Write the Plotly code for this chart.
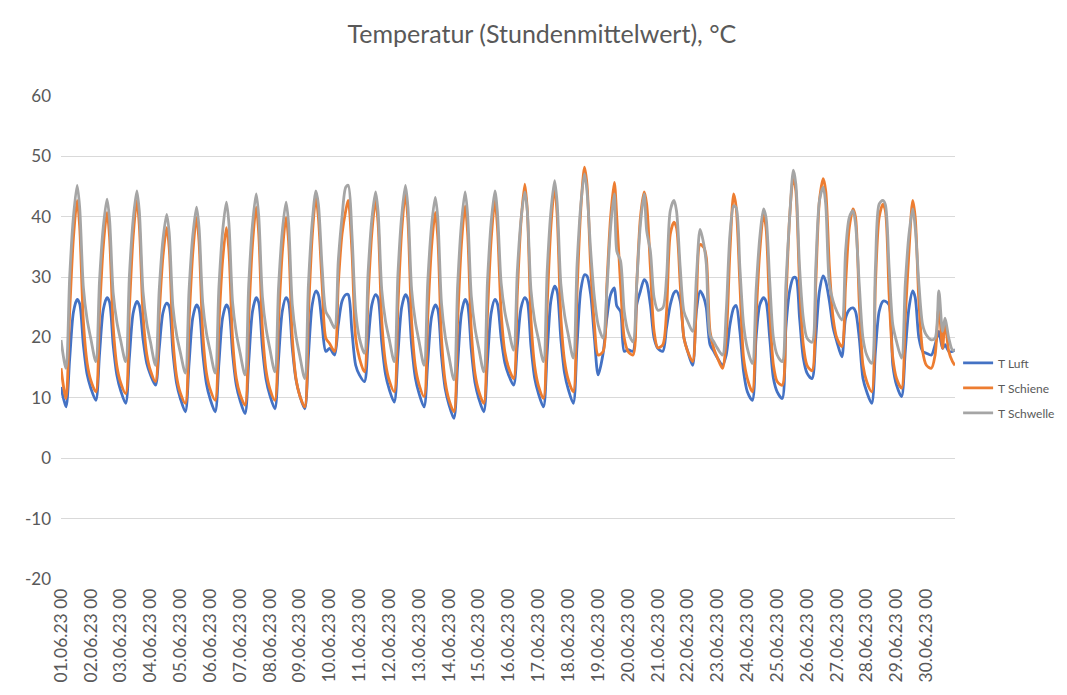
import plotly.graph_objects as go
from datetime import datetime, timedelta

# ---------------- data ----------------
START = datetime(2023, 6, 1)
SAMPLE_HOURS = [0, 4, 7, 10, 13, 15, 18, 21]   # hour of day of each reading
LAST_HOUR = 23                                  # final reading on 30.06.23

T_LUFT = [
    [11.8, 8.5, 16.5, 24.2, 26.3, 25.6, 18.8, 13.9],
    [11.6, 9.6, 17.3, 24.6, 26.6, 25.9, 18.7, 13.7],
    [11.2, 9.1, 16.7, 24.0, 26.0, 25.3, 19.7, 15.7],
    [13.8, 12.1, 18.2, 24.1, 25.7, 25.2, 17.6, 12.4],
    [9.9, 7.7, 15.7, 23.3, 25.4, 24.7, 17.4, 12.3],
    [9.8, 7.7, 15.7, 23.3, 25.4, 24.7, 17.3, 12.1],
    [9.6, 7.4, 16.0, 24.3, 26.6, 25.8, 18.3, 13.0],
    [10.4, 8.2, 16.5, 24.4, 26.6, 25.9, 18.3, 13.0],
    [10.4, 8.2, 17.0, 25.4, 27.7, 27.1, 22.1, 17.7],
    [18.2, 17.1, 22.1, 26.0, 27.1, 27.1, 21.0, 15.4],
    [13.8, 12.7, 19.2, 25.4, 27.1, 26.5, 19.1, 13.9],
    [11.4, 9.3, 17.3, 25.0, 27.1, 26.4, 18.7, 13.3],
    [10.7, 8.5, 16.1, 23.4, 25.4, 24.7, 16.9, 11.5],
    [8.9, 6.6, 15.5, 23.9, 26.3, 25.5, 17.9, 12.5],
    [9.9, 7.7, 16.1, 24.1, 26.3, 25.6, 19.9, 15.8],
    [13.8, 12.1, 18.6, 24.9, 26.6, 26.0, 18.5, 13.2],
    [10.7, 8.5, 17.5, 26.1, 28.5, 27.7, 19.8, 14.1],
    [11.4, 9.1, 18.7, 27.8, 30.4, 30.2, 27.1, 19.9],
    [13.8, 17.4, 23.2, 27.1, 28.2, 25.2, 24.3, 17.7],
    [18.0, 17.7, 25.4, 27.7, 29.6, 29.1, 25.4, 19.9],
    [18.2, 17.7, 21.6, 25.4, 27.4, 27.7, 26.0, 19.9],
    [17.7, 15.4, 24.3, 27.7, 26.6, 24.9, 18.8, 17.7],
    [16.6, 15.4, 17.1, 22.1, 24.9, 25.3, 21.0, 14.3],
    [11.0, 9.6, 19.9, 25.4, 26.6, 26.0, 19.9, 13.2],
    [11.0, 9.9, 21.6, 27.7, 29.9, 29.9, 23.2, 16.6],
    [14.1, 13.2, 19.9, 27.7, 30.2, 29.3, 26.0, 21.6],
    [19.3, 16.8, 23.2, 24.6, 24.9, 24.3, 19.9, 13.2],
    [11.0, 9.1, 17.7, 24.3, 26.0, 26.0, 25.4, 15.4],
    [12.1, 10.2, 17.7, 24.9, 27.7, 26.6, 19.9, 17.7],
    [17.4, 17.1, 18.8, 21.0, 18.2, 18.8, 17.7, 17.7],
]
T_LUFT_LAST = 18.0

T_SCHIENE = [
    [14.9, 9.9, 24.3, 36.5, 42.7, 38.4, 22.7, 15.8],
    [12.9, 11.0, 24.1, 35.1, 40.7, 36.8, 21.8, 15.2],
    [12.5, 10.7, 24.8, 36.6, 42.7, 38.5, 23.8, 17.2],
    [14.5, 12.7, 23.9, 33.4, 38.2, 34.9, 19.9, 13.5],
    [10.8, 9.1, 22.7, 34.0, 39.9, 35.9, 20.8, 14.1],
    [11.4, 9.6, 22.2, 32.8, 38.2, 34.5, 19.7, 13.2],
    [10.6, 8.8, 23.2, 35.4, 41.6, 37.3, 21.4, 14.4],
    [11.5, 9.6, 22.9, 34.1, 39.9, 36.0, 20.1, 13.2],
    [10.4, 8.5, 23.8, 36.6, 43.2, 39.9, 28.8, 19.9],
    [19.0, 17.7, 28.8, 37.1, 41.0, 42.7, 34.3, 19.9],
    [16.6, 14.3, 26.8, 37.3, 42.7, 39.0, 22.7, 15.8],
    [12.9, 11.0, 25.4, 37.6, 43.8, 39.5, 22.6, 15.2],
    [12.2, 10.2, 23.6, 34.9, 40.7, 36.7, 19.9, 12.7],
    [9.7, 7.7, 22.7, 35.3, 41.8, 37.4, 21.2, 14.0],
    [11.1, 9.1, 23.9, 36.3, 42.7, 38.3, 24.1, 17.6],
    [15.0, 13.2, 27.4, 39.3, 45.4, 41.2, 23.0, 15.2],
    [12.0, 9.9, 25.3, 38.3, 44.9, 40.4, 23.5, 16.1],
    [13.0, 11.0, 27.4, 41.1, 48.2, 45.4, 31.6, 22.1],
    [17.1, 17.7, 28.8, 39.9, 45.7, 39.9, 28.8, 19.9],
    [17.7, 17.1, 28.8, 39.9, 44.1, 42.1, 31.6, 21.0],
    [18.3, 18.8, 24.3, 37.1, 39.1, 38.2, 28.8, 19.9],
    [17.7, 16.0, 25.8, 35.4, 34.9, 33.2, 21.0, 18.2],
    [16.6, 14.9, 19.9, 34.3, 43.8, 41.6, 28.8, 16.6],
    [13.2, 11.0, 23.2, 34.3, 40.4, 38.2, 24.3, 15.4],
    [12.7, 12.1, 25.8, 39.9, 46.6, 44.3, 28.8, 18.8],
    [15.4, 14.5, 28.8, 42.7, 46.3, 44.3, 31.6, 23.2],
    [19.9, 18.5, 28.8, 38.2, 41.3, 39.9, 25.8, 15.4],
    [12.7, 11.0, 28.8, 39.9, 42.1, 41.0, 27.1, 16.6],
    [13.2, 11.6, 23.2, 34.3, 42.7, 39.9, 25.8, 17.7],
    [15.4, 14.9, 17.1, 25.0, 18.2, 22.7, 17.7, 16.0],
]
T_SCHIENE_LAST = 15.4

T_SCHWELLE = [
    [19.6, 14.9, 30.1, 40.0, 45.2, 41.6, 28.3, 23.0],
    [19.8, 16.0, 29.5, 38.3, 42.9, 39.7, 27.3, 22.5],
    [19.5, 16.0, 30.2, 39.5, 44.3, 40.9, 27.5, 22.3],
    [19.2, 15.4, 27.9, 36.2, 40.4, 37.4, 25.1, 20.4],
    [17.5, 14.1, 27.9, 36.9, 41.6, 38.3, 25.7, 20.7],
    [17.7, 14.1, 28.3, 37.6, 42.4, 39.0, 25.8, 20.7],
    [17.5, 13.8, 28.8, 38.7, 43.8, 40.2, 26.7, 21.4],
    [18.1, 14.3, 28.4, 37.6, 42.4, 39.0, 25.5, 20.2],
    [17.0, 13.2, 28.8, 39.0, 44.3, 42.1, 31.6, 24.3],
    [23.2, 21.6, 32.7, 39.9, 44.9, 45.2, 37.1, 24.3],
    [19.9, 17.4, 30.8, 39.6, 44.1, 40.9, 27.8, 22.7],
    [19.7, 16.0, 30.6, 40.2, 45.2, 41.7, 27.9, 22.6],
    [19.3, 15.4, 29.3, 38.5, 43.2, 39.9, 25.7, 20.2],
    [16.9, 13.0, 28.6, 38.8, 44.1, 40.4, 26.8, 21.5],
    [18.2, 14.3, 29.3, 39.2, 44.3, 40.7, 29.0, 24.2],
    [21.3, 17.9, 31.0, 39.6, 44.1, 41.0, 27.8, 22.7],
    [19.7, 16.0, 31.0, 40.9, 46.0, 42.4, 28.9, 23.7],
    [20.4, 16.6, 31.9, 41.9, 47.1, 44.3, 34.3, 26.6],
    [22.1, 19.9, 27.7, 38.2, 43.8, 34.3, 32.7, 24.3],
    [21.0, 19.3, 28.8, 38.8, 43.8, 37.7, 34.3, 26.6],
    [24.5, 24.9, 29.9, 41.0, 42.7, 41.0, 31.6, 24.3],
    [22.7, 21.0, 29.9, 37.9, 35.4, 32.1, 20.4, 19.3],
    [18.2, 17.1, 24.3, 37.1, 41.8, 41.5, 31.6, 22.1],
    [18.2, 15.7, 27.7, 36.6, 41.3, 39.9, 29.3, 19.9],
    [17.1, 16.0, 28.8, 39.9, 47.7, 45.4, 31.6, 23.2],
    [19.9, 19.2, 31.6, 42.7, 44.9, 42.1, 28.8, 26.0],
    [24.3, 22.9, 34.3, 39.9, 41.0, 38.8, 28.8, 19.9],
    [17.1, 15.7, 31.6, 42.1, 42.7, 42.0, 31.6, 22.1],
    [19.3, 16.6, 28.8, 37.1, 41.3, 38.2, 28.8, 22.1],
    [20.4, 19.6, 19.9, 27.7, 21.0, 23.2, 19.9, 17.9],
]
T_SCHWELLE_LAST = 17.9

DAYS = list(range(1, 31))
DAY_LABELS = [f"{d:02d}.06.23 00" for d in DAYS]
Y_TICKS = [-20, -10, 0, 10, 20, 30, 40, 50, 60]
Y_TICK_LABELS = ["-20", "-10", "0", "10", "20", "30", "40", "50", "60"]

SERIES = [
    ("T Luft", T_LUFT, T_LUFT_LAST, "#4472C4"),
    ("T Schiene", T_SCHIENE, T_SCHIENE_LAST, "#ED7D31"),
    ("T Schwelle", T_SCHWELLE, T_SCHWELLE_LAST, "#A5A5A5"),
]


def build_xy(daily, last):
    xs, ys = [], []
    for d, vals in enumerate(daily):
        for h, v in zip(SAMPLE_HOURS, vals):
            xs.append(START + timedelta(days=d, hours=h))
            ys.append(v)
    xs.append(START + timedelta(days=len(daily) - 1, hours=LAST_HOUR))
    ys.append(last)
    return xs, ys


FONT = "Lato, 'Liberation Sans', sans-serif"
GREY_TXT = "#595959"

fig = go.Figure()
for name, daily, last, color in SERIES:
    xs, ys = build_xy(daily, last)
    fig.add_trace(go.Scatter(
        x=xs, y=ys, name=name, mode="lines",
        line=dict(color=color, width=2.8, shape="spline", smoothing=0.8),
        legendgroup=name,
    ))

tick_pos = [START + timedelta(days=i) for i in range(len(DAYS))]
end = START + timedelta(days=len(DAYS) - 1, hours=LAST_HOUR)

# figure sized to fit inside the 1067x695 window together with the 8 px page margin
fig.update_layout(
    width=1051, height=679,
    margin=dict(l=53, r=104, t=88, b=108, autoexpand=False),
    paper_bgcolor="white", plot_bgcolor="white",
    font=dict(family=FONT, color=GREY_TXT),
    title=dict(text="Temperatur (Stundenmittelwert), °C",
               x=0.508, xref="container", xanchor="center",
               y=0.9617, yref="container", yanchor="middle",
               font=dict(size=25, color=GREY_TXT, family=FONT)),
    showlegend=True,
    legend=dict(xref="container", x=0.904, xanchor="left",
                yref="container", y=0.4404, yanchor="middle",
                font=dict(size=12, color=GREY_TXT, family=FONT),
                tracegroupgap=6, itemwidth=30, bgcolor="rgba(0,0,0,0)"),
)
fig.update_xaxes(
    type="date", range=[START, end],
    tickmode="array", tickvals=tick_pos, ticktext=DAY_LABELS,
    tickangle=-90, tickfont=dict(size=17.5, color=GREY_TXT, family=FONT),
    ticklabelstandoff=5,
    showgrid=False, zeroline=False, showline=False, ticks="",
)
fig.update_yaxes(
    range=[-20, 60], tickmode="array", tickvals=Y_TICKS, ticktext=Y_TICK_LABELS,
    showgrid=True, gridcolor="#D9D9D9", gridwidth=1,
    zeroline=True, zerolinecolor="#D9D9D9", zerolinewidth=1,
    showline=False, ticks="", ticklabelstandoff=9,
    tickfont=dict(size=17, color=GREY_TXT, family=FONT),
)

fig.write_html("out.html")
